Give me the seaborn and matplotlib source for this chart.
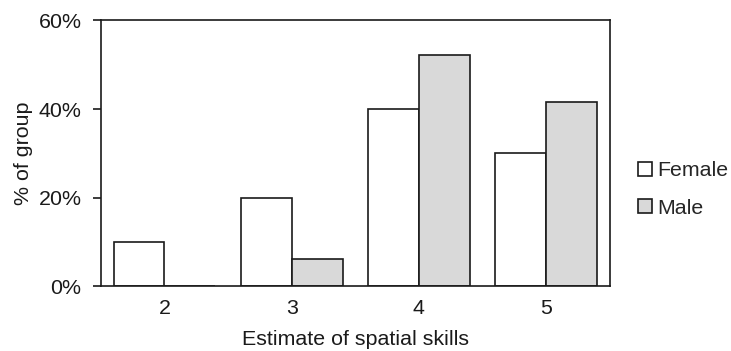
import pandas as pd
import matplotlib
matplotlib.use('Agg')
import matplotlib.pyplot as plt
import seaborn as sns
from matplotlib.ticker import PercentFormatter

scores = ['2', '3', '4', '5']
female = [10, 20, 40, 30]
male = [0, 6.2, 52.1, 41.7]
groups = ['Female', 'Male']
yticks = [0, 20, 40, 60]

df = pd.DataFrame({
    'score': scores * 2,
    'pct': female + male,
    'group': ['Female'] * len(scores) + ['Male'] * len(scores),
})

sns.set_style('white')
plt.rcParams['font.family'] = ['Liberation Sans', 'DejaVu Sans']
fs = 15.4

fig = plt.figure(figsize=(7.31, 3.51), dpi=100)
ax = fig.add_axes([0.138, 0.184, 0.696, 0.758])

sns.barplot(data=df, x='score', y='pct', hue='group', hue_order=groups,
            palette=['white', '#d9d9d9'], edgecolor='#1a1a1a', linewidth=1.2,
            width=0.8, ax=ax)

ax.set_ylim(0, 60)
ax.set_yticks(yticks)
ax.yaxis.set_major_formatter(PercentFormatter(100, decimals=0))
ax.set_xlabel('Estimate of spatial skills', fontsize=fs, color='#1a1a1a', labelpad=9)
ax.set_ylabel('% of group', fontsize=fs, color='#1a1a1a', labelpad=4)
ax.tick_params(axis='y', length=6, width=1.2, direction='out', pad=8,
               labelsize=fs, colors='#1a1a1a', left=True)
ax.tick_params(axis='x', length=0, pad=9, labelsize=fs, colors='#1a1a1a')

for s in ax.spines.values():
    s.set_visible(True)
    s.set_color('#1a1a1a')
    s.set_linewidth(1.2)

ax.legend(title=None, frameon=False, loc='center left',
          bbox_to_anchor=(0.873, 0.46), bbox_transform=fig.transFigure,
          handlelength=0.65, handleheight=0.65, handletextpad=0.25,
          labelspacing=0.85, fontsize=fs, borderaxespad=0, borderpad=0)

fig.savefig('out.png', dpi=100)
